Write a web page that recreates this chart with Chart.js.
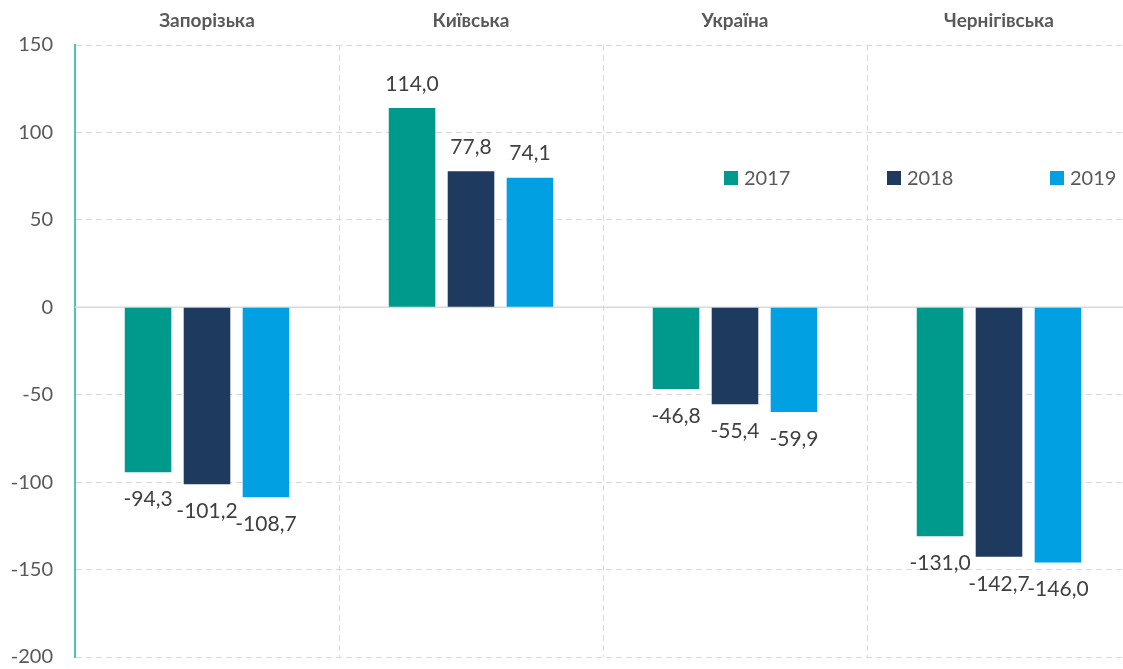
<!DOCTYPE html>
<html>
<head>
<meta charset="utf-8">
<script src="https://cdn.jsdelivr.net/npm/chart.js@4"></script>
<style>
  html, body { margin: 0; padding: 0; background: #fff; overflow: hidden; }
  #wrap { width: 1131px; height: 669px; }
</style>
</head>
<body>
<div id="wrap"><canvas id="chart"></canvas></div>
<script>
const regions = ['Запорізька', 'Київська', 'Україна', 'Чернігівська'];
const years = ['2017', '2018', '2019'];
const values2017 = [-94.3, 114.0, -46.8, -131.0];
const values2018 = [-101.2, 77.8, -55.4, -142.7];
const values2019 = [-108.7, 74.1, -59.9, -146.0];
const colors = ['#009a8c', '#1f3a5f', '#00a0e3'];

const FONT = 'Lato, "Open Sans", sans-serif';

// zero line + value labels + legend inside the plot
const extras = {
    id: 'extras',
    beforeDatasetsDraw(chart) {
        const { ctx, chartArea, scales } = chart;
        const y0 = scales.y.getPixelForValue(0);
        ctx.save();
        ctx.strokeStyle = '#d9d9d9';
        ctx.lineWidth = 1.5;
        ctx.beginPath();
        ctx.moveTo(chartArea.left, y0);
        ctx.lineTo(chartArea.right, y0);
        ctx.stroke();
        ctx.restore();
    },
    afterDatasetsDraw(chart) {
        const { ctx } = chart;
        ctx.save();
        ctx.font = '21px ' + FONT;
        ctx.fillStyle = '#404040';
        ctx.textAlign = 'center';
        ctx.textBaseline = 'middle';
        chart.data.datasets.forEach((ds, i) => {
            chart.getDatasetMeta(i).data.forEach((bar, j) => {
                const v = ds.data[j];
                const txt = v.toFixed(1).replace('.', ',');
                const y = v >= 0 ? bar.y - 24 : bar.y + 27;
                ctx.fillText(txt, bar.x, y);
            });
        });

        // legend
        const ly = 178;
        const lx = [724, 887, 1050];
        ctx.font = '20px ' + FONT;
        ctx.textAlign = 'left';
        chart.data.datasets.forEach((ds, i) => {
            ctx.fillStyle = ds.backgroundColor;
            ctx.fillRect(lx[i], ly - 7, 14, 14);
            ctx.fillStyle = '#595959';
            ctx.fillText(ds.label, lx[i] + 20, ly + 1);
        });
        ctx.restore();
    }
};

new Chart(document.getElementById('chart').getContext('2d'), {
    type: 'bar',
    data: {
        labels: regions,
        datasets: [
            { label: years[0], data: values2017, backgroundColor: colors[0] },
            { label: years[1], data: values2018, backgroundColor: colors[1] },
            { label: years[2], data: values2019, backgroundColor: colors[2] }
        ]
    },
    options: {
        responsive: true,
        maintainAspectRatio: false,
        animation: false,
        categoryPercentage: 0.67,
        barPercentage: 0.79,
        layout: { padding: { top: 0, bottom: 12, left: 0, right: 0 } },
        plugins: {
            legend: { display: false },
            tooltip: { enabled: false }
        },
        scales: {
            x: {
                position: 'top',
                afterFit: (scale) => { scale.height = 45; scale.paddingRight = 0; },
                grid: { color: '#d9d9d9', lineWidth: 1, drawTicks: false, offset: true },
                border: { display: false, dash: [6, 4] },
                ticks: { color: '#595959', font: { family: FONT, size: 19, weight: 'bold' }, padding: 13 }
            },
            y: {
                min: -200,
                max: 150,
                afterFit: (scale) => {
                    scale.width = 75;
                    scale.paddingTop = 0;
                    scale.paddingBottom = 0;
                },
                grid: { color: '#d9d9d9', lineWidth: 1, drawTicks: false },
                border: { display: true, color: '#4fc3b9', width: 2, dash: [6, 4] },
                ticks: { stepSize: 50, color: '#595959', font: { family: FONT, size: 20 }, padding: 22 }
            }
        }
    },
    plugins: [extras]
});
</script>
</body>
</html>
